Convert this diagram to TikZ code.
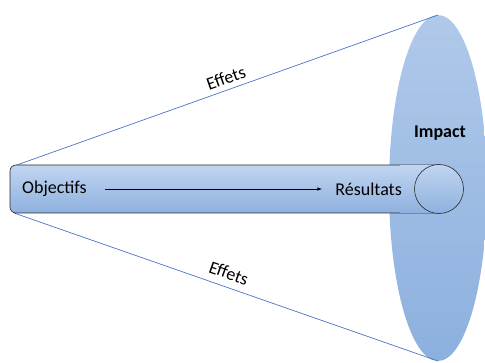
\documentclass[tikz,border=0pt]{standalone}
\usepackage{fontspec}
\setmainfont{Carlito}
\definecolor{lineblue}{HTML}{4A74C4}
\definecolor{elltop}{HTML}{B0C9EA}
\definecolor{ellbot}{HTML}{8CB0DE}
\definecolor{tubetop}{HTML}{C0D5F0}
\definecolor{tubebot}{HTML}{8FB1DF}
\definecolor{outl}{HTML}{2B2B2B}
\tikzset{
  lbl/.style={font=\fontsize{18}{20}\selectfont, text=black, inner sep=1pt},
  cone/.style={draw=lineblue, line width=0.7pt},
}
\begin{document}
\begin{tikzpicture}[x=1pt,y=-1pt]
\useasboundingbox (0,0) rectangle (485,363);
% impact ellipse
\shade[top color=elltop, bottom color=ellbot] (438,188) ellipse [x radius=49, y radius=173];
\coordinate (etop) at (438,15);
\coordinate (ebot) at (438,361);
\coordinate (ttl) at (14,166);
\coordinate (tbl) at (14,213);
\draw[cone] (ttl) -- (etop);
\draw[cone] (tbl) -- (ebot);
% tube
\shade[top color=tubetop, bottom color=tubebot, draw=outl, line width=0.6pt, rounded corners=6pt]
  (439,165) -- (10,165) -- (10,213) -- (439,213);
\shade[top color=tubetop, bottom color=tubebot, draw=none] (400,165.3) rectangle (439,212.7);
\shade[top color=tubetop, bottom color=tubebot, draw=outl, line width=0.6pt] (439,189) circle [radius=24.5];
% labels
\node[lbl, anchor=west] (obj) at (21,189) {Objectifs};
\node[lbl, anchor=east] (res) at (403,189) {Résultats};
\coordinate (a0) at (105,189);
\coordinate (a1) at (322,189);
\draw[-latex, line width=0.6pt] (a0) -- (a1);
\node[lbl, font=\fontsize{18}{20}\selectfont\bfseries] (imp) at (440,133) {Impact};
\node[lbl, rotate=19.6] (ef1) at (226,78) {Effets};
\node[lbl, rotate=-19.6] (ef2) at (229,273) {Effets};
\end{tikzpicture}
\end{document}
